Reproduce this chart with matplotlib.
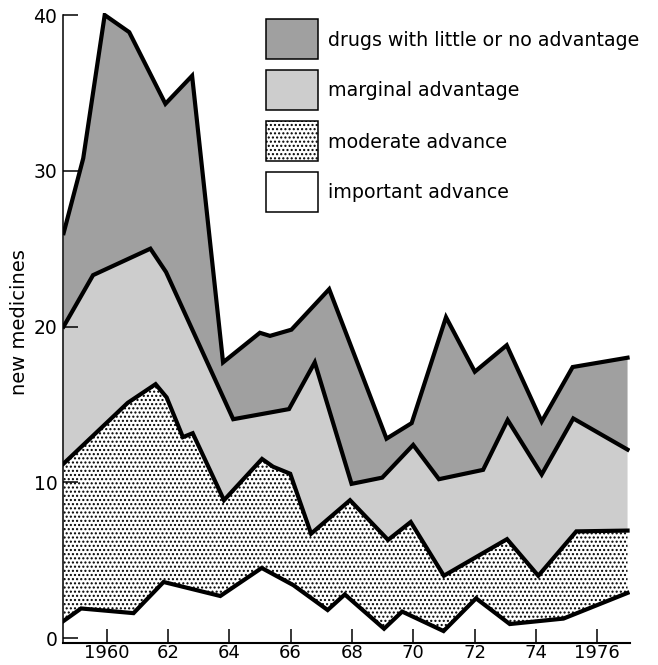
import matplotlib
matplotlib.use("Agg")
import matplotlib.pyplot as plt
from matplotlib.patches import Rectangle
import numpy as np

plt.rcParams['font.family'] = ['DejaVu Sans']
plt.rcParams['hatch.linewidth'] = 1.0

# ---- data ----
# top boundary: total of all four categories
total_x = [1958.6, 1959.24, 1959.94, 1960.74, 1961.92, 1962.79, 1963.80, 1965.00, 1965.33,
           1966.03, 1967.26, 1969.13, 1969.95, 1971.07, 1972.01, 1973.05, 1974.19, 1975.20, 1976.99]
total_y = [26.0, 30.8, 40.0, 38.9, 34.3, 36.1, 17.7, 19.6, 19.4,
           19.8, 22.4, 12.8, 13.8, 20.6, 17.1, 18.8, 13.9, 17.4, 18.0]

# top of "marginal advantage" (cumulative)
marginal_x = [1958.6, 1959.56, 1961.43, 1961.94, 1964.13, 1965.95, 1966.79, 1967.99, 1968.99,
              1970.00, 1970.84, 1972.28, 1973.08, 1974.19, 1975.22, 1976.99]
marginal_y = [20.0, 23.3, 25.0, 23.5, 14.05, 14.7, 17.7, 9.9, 10.3,
              12.4, 10.2, 10.8, 14.0, 10.5, 14.1, 12.1]

# top of "moderate advance" (cumulative)
moderate_x = [1958.6, 1960.69, 1961.60, 1961.96, 1962.49, 1962.81, 1963.83, 1965.07, 1965.43,
              1965.99, 1966.67, 1967.94, 1969.18, 1969.92, 1971.00, 1973.06, 1974.08, 1975.32, 1976.99]
moderate_y = [11.2, 15.1, 16.3, 15.45, 12.9, 13.15, 8.85, 11.5, 11.0,
              10.55, 6.7, 8.85, 6.3, 7.45, 4.0, 6.35, 4.0, 6.85, 6.9]

# top of "important advance"
important_x = [1958.6, 1959.17, 1960.88, 1961.86, 1963.71, 1965.06, 1966.09, 1967.21, 1967.77,
               1969.05, 1969.64, 1970.99, 1972.05, 1973.15, 1974.90, 1976.99]
important_y = [1.1, 1.9, 1.6, 3.6, 2.7, 4.5, 3.4, 1.8, 2.8,
               0.6, 1.7, 0.45, 2.55, 0.9, 1.25, 2.9]

baseline_x = [1958.6, 1976.99]
baseline_y = [0, 0]

categories = ["drugs with little or no advantage", "marginal advantage",
              "moderate advance", "important advance"]
xtick_pos = [1960, 1962, 1964, 1966, 1968, 1970, 1972, 1974, 1976]
xtick_labels = ["1960", "62", "64", "66", "68", "70", "72", "74", "1976"]
ytick_pos = [0, 10, 20, 30, 40]

# ---- styles ----
DARK = "#a0a0a0"
LIGHT = "#cdcdcd"
styles = [dict(facecolor=DARK, hatch=None),
          dict(facecolor=LIGHT, hatch=None),
          dict(facecolor="white", hatch="...."),
          dict(facecolor="white", hatch=None)]

W, H = 658, 665
fig = plt.figure(figsize=(W / 100, H / 100), dpi=100)
ax = fig.add_axes([63.3 / W, 1 - 643.2 / H, (630 - 63.3) / W, (643.2 - 12.7) / H])

lines = [(total_x, total_y), (marginal_x, marginal_y), (moderate_x, moderate_y),
         (important_x, important_y), (baseline_x, baseline_y)]

for i in range(4):
    ux, uy = lines[i]
    lx, ly = lines[i + 1]
    px = list(ux) + list(lx)[::-1]
    py = list(uy) + list(ly)[::-1]
    st = styles[i]
    ax.fill(px, py, facecolor=st["facecolor"], hatch=st["hatch"],
            edgecolor="black", linewidth=0, zorder=1)

for i in range(4):
    x, y = lines[i]
    ax.plot(x, y, color="black", lw=3.0, solid_joinstyle="miter", zorder=3)

ax.set_xlim(1958.59, 1977.07)
ax.set_ylim(-0.33, 40.15)
ax.spines["top"].set_visible(False)
ax.spines["right"].set_visible(False)
ax.spines["left"].set_linewidth(1.1)
ax.spines["bottom"].set_linewidth(1.5)
ax.spines["left"].set_bounds(-0.33, 40)

ax.set_xticks(xtick_pos)
ax.set_xticklabels(xtick_labels)
ax.set_yticks(ytick_pos)
ax.tick_params(axis="x", direction="in", length=10, width=1.1, pad=0.5, labelsize=13)
ax.tick_params(axis="y", direction="in", length=11, width=1.1, pad=4.3, labelsize=13.5)
for t in ax.xaxis.get_major_ticks() + ax.yaxis.get_major_ticks():
    t.tick1line.set_zorder(5)

ax.set_ylabel("new medicines", fontsize=14)
ax.yaxis.set_label_coords(-0.061, 0.509)

# ---- legend (manual) ----
box_tops = [19, 70, 121, 172]
for top, name, st in zip(box_tops, categories, styles):
    r = Rectangle((266 / W, 1 - (top + 40) / H), 52 / W, 40 / H,
                  transform=fig.transFigure, facecolor=st["facecolor"],
                  hatch=st["hatch"], edgecolor="black", linewidth=1.1)
    fig.add_artist(r)
    fig.text(328 / W, 1 - (top + 21) / H, name, fontsize=13.7, va="center", ha="left")

fig.savefig("out.png", dpi=100)
